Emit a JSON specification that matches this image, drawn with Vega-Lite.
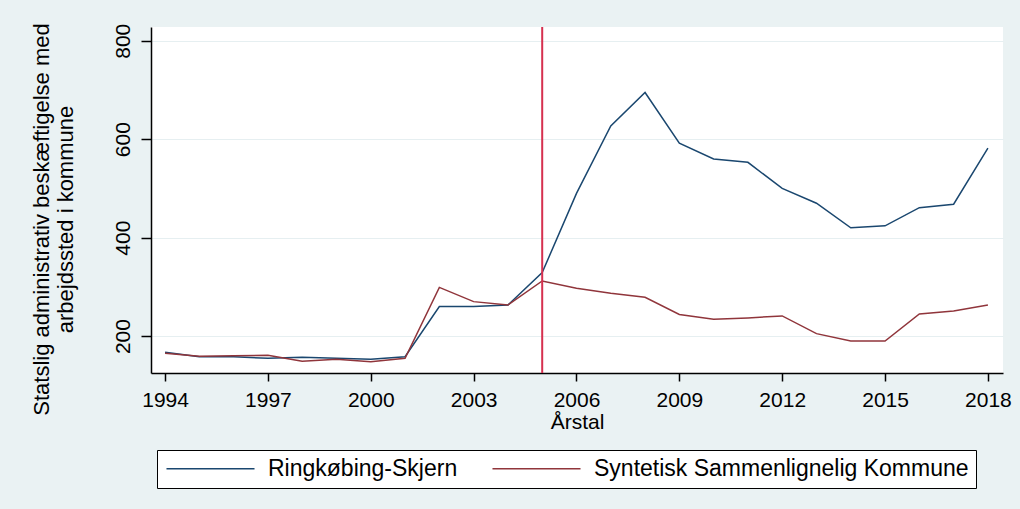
{
  "$schema": "https://vega.github.io/schema/vega-lite/v6.json",
  "autosize": {"type": "none"},
  "width": 852,
  "height": 346,
  "padding": {"left": 151, "top": 27, "right": 17, "bottom": 136},
  "background": "#EAF2F3",
  "config": {
    "font": "Liberation Sans",
    "view": {"fill": "white", "stroke": null},
    "axis": {
      "domainColor": "#000000",
      "domainWidth": 1.5,
      "tickColor": "#000000",
      "tickWidth": 1.5,
      "labelColor": "#000000",
      "titleColor": "#000000",
      "labelFont": "Liberation Sans",
      "titleFont": "Liberation Sans",
      "labelFontSize": 21,
      "titleFontSize": 21,
      "titleFontWeight": "normal",
      "gridColor": "#E6EFF1",
      "gridWidth": 1
    },
    "legend": {
      "labelFont": "Liberation Sans",
      "labelFontSize": 23,
      "labelColor": "#000000"
    }
  },
  "data": {
    "values": [
      {"year": 1994, "value": 167, "series": "Ringkøbing-Skjern"},
      {"year": 1995, "value": 158, "series": "Ringkøbing-Skjern"},
      {"year": 1996, "value": 158, "series": "Ringkøbing-Skjern"},
      {"year": 1997, "value": 155, "series": "Ringkøbing-Skjern"},
      {"year": 1998, "value": 157, "series": "Ringkøbing-Skjern"},
      {"year": 1999, "value": 155, "series": "Ringkøbing-Skjern"},
      {"year": 2000, "value": 153, "series": "Ringkøbing-Skjern"},
      {"year": 2001, "value": 158, "series": "Ringkøbing-Skjern"},
      {"year": 2002, "value": 260, "series": "Ringkøbing-Skjern"},
      {"year": 2003, "value": 260, "series": "Ringkøbing-Skjern"},
      {"year": 2004, "value": 263, "series": "Ringkøbing-Skjern"},
      {"year": 2005, "value": 329, "series": "Ringkøbing-Skjern"},
      {"year": 2006, "value": 490, "series": "Ringkøbing-Skjern"},
      {"year": 2007, "value": 627, "series": "Ringkøbing-Skjern"},
      {"year": 2008, "value": 695, "series": "Ringkøbing-Skjern"},
      {"year": 2009, "value": 592, "series": "Ringkøbing-Skjern"},
      {"year": 2010, "value": 560, "series": "Ringkøbing-Skjern"},
      {"year": 2011, "value": 553, "series": "Ringkøbing-Skjern"},
      {"year": 2012, "value": 500, "series": "Ringkøbing-Skjern"},
      {"year": 2013, "value": 470, "series": "Ringkøbing-Skjern"},
      {"year": 2014, "value": 420, "series": "Ringkøbing-Skjern"},
      {"year": 2015, "value": 424, "series": "Ringkøbing-Skjern"},
      {"year": 2016, "value": 461, "series": "Ringkøbing-Skjern"},
      {"year": 2017, "value": 468, "series": "Ringkøbing-Skjern"},
      {"year": 2018, "value": 582, "series": "Ringkøbing-Skjern"},
      {"year": 1994, "value": 165, "series": "Syntetisk Sammenlignelig Kommune"},
      {"year": 1995, "value": 159, "series": "Syntetisk Sammenlignelig Kommune"},
      {"year": 1996, "value": 160, "series": "Syntetisk Sammenlignelig Kommune"},
      {"year": 1997, "value": 161, "series": "Syntetisk Sammenlignelig Kommune"},
      {"year": 1998, "value": 149, "series": "Syntetisk Sammenlignelig Kommune"},
      {"year": 1999, "value": 153, "series": "Syntetisk Sammenlignelig Kommune"},
      {"year": 2000, "value": 148, "series": "Syntetisk Sammenlignelig Kommune"},
      {"year": 2001, "value": 155, "series": "Syntetisk Sammenlignelig Kommune"},
      {"year": 2002, "value": 299, "series": "Syntetisk Sammenlignelig Kommune"},
      {"year": 2003, "value": 270, "series": "Syntetisk Sammenlignelig Kommune"},
      {"year": 2004, "value": 263, "series": "Syntetisk Sammenlignelig Kommune"},
      {"year": 2005, "value": 312, "series": "Syntetisk Sammenlignelig Kommune"},
      {"year": 2006, "value": 297, "series": "Syntetisk Sammenlignelig Kommune"},
      {"year": 2007, "value": 287, "series": "Syntetisk Sammenlignelig Kommune"},
      {"year": 2008, "value": 279, "series": "Syntetisk Sammenlignelig Kommune"},
      {"year": 2009, "value": 244, "series": "Syntetisk Sammenlignelig Kommune"},
      {"year": 2010, "value": 234, "series": "Syntetisk Sammenlignelig Kommune"},
      {"year": 2011, "value": 237, "series": "Syntetisk Sammenlignelig Kommune"},
      {"year": 2012, "value": 241, "series": "Syntetisk Sammenlignelig Kommune"},
      {"year": 2013, "value": 205, "series": "Syntetisk Sammenlignelig Kommune"},
      {"year": 2014, "value": 190, "series": "Syntetisk Sammenlignelig Kommune"},
      {"year": 2015, "value": 190, "series": "Syntetisk Sammenlignelig Kommune"},
      {"year": 2016, "value": 245, "series": "Syntetisk Sammenlignelig Kommune"},
      {"year": 2017, "value": 251, "series": "Syntetisk Sammenlignelig Kommune"},
      {"year": 2018, "value": 263, "series": "Syntetisk Sammenlignelig Kommune"}
    ]
  },
  "layer": [
    {
      "mark": {"type": "line", "strokeWidth": 1.5},
      "encoding": {
        "x": {
          "field": "year",
          "type": "quantitative",
          "scale": {"domain": [1993.59, 2018.44], "nice": false, "zero": false},
          "axis": {
            "title": "Årstal",
            "values": [1994, 1997, 2000, 2003, 2006, 2009, 2012, 2015, 2018],
            "format": "d",
            "grid": false,
            "tickSize": 8,
            "labelPadding": 8,
            "titlePadding": 1
          }
        },
        "y": {
          "field": "value",
          "type": "quantitative",
          "scale": {"domain": [125, 828], "nice": false, "zero": false},
          "axis": {
            "title": ["Statslig administrativ beskæftigelse med", "arbejdssted i kommune"],
            "values": [200, 400, 600, 800],
            "grid": true,
            "tickSize": 10,
            "labelAngle": -90,
            "labelAlign": "center",
            "labelBaseline": "bottom",
            "labelPadding": 8,
            "titleFontSize": 22,
            "titleLineHeight": 24,
            "titlePadding": 35,
            "titleY": 192
          }
        },
        "color": {
          "field": "series",
          "type": "nominal",
          "scale": {
            "domain": ["Ringkøbing-Skjern", "Syntetisk Sammenlignelig Kommune"],
            "range": ["#1a476f", "#90353b"]
          },
          "legend": {
            "title": null,
            "orient": "none",
            "direction": "horizontal",
            "legendX": 6,
            "legendY": 423,
            "symbolType": "M-5,0H5",
            "symbolSize": 310,
            "symbolStrokeWidth": 1.5,
            "symbolOffset": 35,
            "labelOffset": 46,
            "labelLimit": 600,
            "columnPadding": 31,
            "padding": 7,
            "fillColor": "white",
            "strokeColor": "#000000"
          }
        }
      }
    },
    {
      "data": {"values": [{"year": 2005}]},
      "mark": {"type": "rule", "color": "#d6304f", "strokeWidth": 2},
      "encoding": {
        "x": {"field": "year", "type": "quantitative"}
      }
    }
  ]
}
